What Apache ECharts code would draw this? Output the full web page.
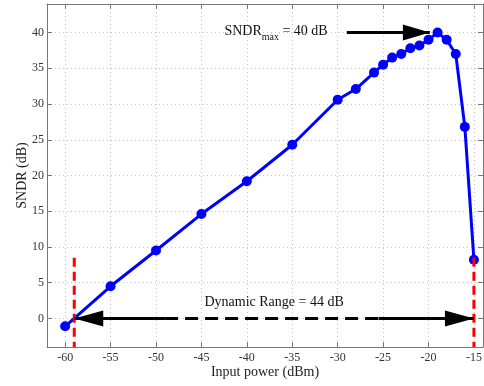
<!DOCTYPE html>
<html><head><meta charset="utf-8">
<script src="https://cdn.jsdelivr.net/npm/echarts@6/dist/echarts.min.js"></script>
<style>html,body{margin:0;padding:0;background:#fff}#c{width:484px;height:386px}</style>
</head><body><div id="c"></div>
<script>
const inputPower = [-60,-55,-50,-45,-40,-35,-30,-28,-26,-25,-24,-23,-22,-21,-20,-19,-18,-17,-16,-15];
const sndr = [-1.1,4.5,9.5,14.6,19.2,24.3,30.6,32.1,34.4,35.5,36.5,37.0,37.8,38.2,39.0,40.0,39.0,37.0,26.8,8.2];
const xTicks = [-60,-55,-50,-45,-40,-35,-30,-25,-20,-15];
const yTicks = [0,5,10,15,20,25,30,35,40];
const xRange = [-62,-14];
const yRange = [-4,44];
const rangeMarkers = [-59,-15];       // red dashed lines
const rangeMarkerTop = 8.5;
const rangeArrowY = 0;
const rangeDashed = [-49,-25.5];      // dashed middle part of range arrow
const maxArrow = [-29,-19.85,40];     // x start, x tip, y
const rangeLabel = {x:-37, y:2.2, text:'Dynamic Range = 44 dB'};
const maxLabel = {x:-31.1, y:40.2};

const font = 'Liberation Serif';
const chart = echarts.init(document.getElementById('c'));
function axis(extra){
  return Object.assign({type:'value',
    axisLine:{show:true,onZero:false,lineStyle:{color:'#777',width:1}},
    splitLine:{show:false}},extra);
}
function ticks(vals){return {show:true,inside:true,length:5,lineStyle:{color:'#777'},customValues:vals};}
const gridLine = {show:true,lineStyle:{color:'#c4c4c4',type:[1,3],width:1}};
chart.setOption({
  animation:false,
  grid:{left:47,right:1,top:4,bottom:39,containLabel:false,outerBoundsMode:'none'},
  xAxis:[
    axis({min:xRange[0],max:xRange[1],position:'bottom',
      name:'Input power (dBm)',nameLocation:'middle',nameGap:18,nameMoveOverlap:false,
      nameTextStyle:{fontFamily:font,fontSize:14,color:'#222'},
      axisTick:ticks(xTicks),
      axisLabel:{customValues:xTicks,fontFamily:font,fontSize:12,color:'#333',margin:5},
      splitLine:gridLine}),
    axis({min:xRange[0],max:xRange[1],position:'top',axisTick:ticks(xTicks),axisLabel:{show:false}})
  ],
  yAxis:[
    axis({min:yRange[0],max:yRange[1],position:'left',
      name:'SNDR (dB)',nameLocation:'middle',nameGap:18,nameRotate:90,nameMoveOverlap:false,
      nameTextStyle:{fontFamily:font,fontSize:14,color:'#222'},
      axisTick:ticks(yTicks),
      axisLabel:{customValues:yTicks,fontFamily:font,fontSize:12,color:'#333',margin:3},
      splitLine:gridLine}),
    axis({min:yRange[0],max:yRange[1],position:'right',axisTick:ticks(yTicks),axisLabel:{show:false}})
  ],
  series:[
    {type:'line',data:inputPower.map((x,i)=>[x,sndr[i]]),symbol:'circle',symbolSize:10,
     lineStyle:{color:'#0000ff',width:3},itemStyle:{color:'#0000ff'},z:3},
    ...rangeMarkers.map(x=>({type:'line',data:[[x,rangeMarkerTop],[x,yRange[0]]],symbol:'none',
      lineStyle:{color:'#ff0000',width:3,type:[9,5]},z:4})),
    {type:'line',data:[[rangeMarkers[0],rangeArrowY],[rangeDashed[0],rangeArrowY]],symbol:'none',lineStyle:{color:'#000',width:3},z:5},
    {type:'line',data:[[rangeDashed[0],rangeArrowY],[rangeDashed[1],rangeArrowY]],symbol:'none',lineStyle:{color:'#000',width:3,type:[13,7]},z:5},
    {type:'line',data:[[rangeDashed[1],rangeArrowY],[rangeMarkers[1],rangeArrowY]],symbol:'none',lineStyle:{color:'#000',width:3},z:5},
    {type:'line',data:[[maxArrow[0],maxArrow[2]],[maxArrow[1],maxArrow[2]]],symbol:'none',lineStyle:{color:'#000',width:3},z:5},
    {type:'custom',data:[[0,0]],z:6,clip:false,
     renderItem:function(params,api){
       const L=29,H=8;
       const lt=api.coord([rangeMarkers[0],rangeArrowY]);
       const rt=api.coord([rangeMarkers[1],rangeArrowY]);
       const mt=api.coord([maxArrow[1],maxArrow[2]]);
       const rl=api.coord([rangeLabel.x,rangeLabel.y]);
       const ml=api.coord([maxLabel.x,maxLabel.y]);
       return {type:'group',children:[
         {type:'polygon',shape:{points:[[lt[0],lt[1]],[lt[0]+L,lt[1]-H],[lt[0]+L,lt[1]+H]]},style:{fill:'#000'}},
         {type:'polygon',shape:{points:[[rt[0],rt[1]],[rt[0]-L,rt[1]-H],[rt[0]-L,rt[1]+H]]},style:{fill:'#000'}},
         {type:'polygon',shape:{points:[[mt[0],mt[1]],[mt[0]-27,mt[1]-H],[mt[0]-27,mt[1]+H]]},style:{fill:'#000'}},
         {type:'text',x:rl[0],y:rl[1],style:{text:rangeLabel.text,fontFamily:font,fontSize:14,fill:'#111',align:'center',verticalAlign:'middle'}},
         {type:'text',x:ml[0],y:ml[1],style:{text:'{a|SNDR}{b|max}{a| = 40 dB}',align:'right',verticalAlign:'middle',
           rich:{a:{fontFamily:font,fontSize:14,fill:'#111'},b:{fontFamily:font,fontSize:10,fill:'#111',padding:[12,0,0,0]}}}}
       ]};
     }}
  ]
});
</script></body></html>
